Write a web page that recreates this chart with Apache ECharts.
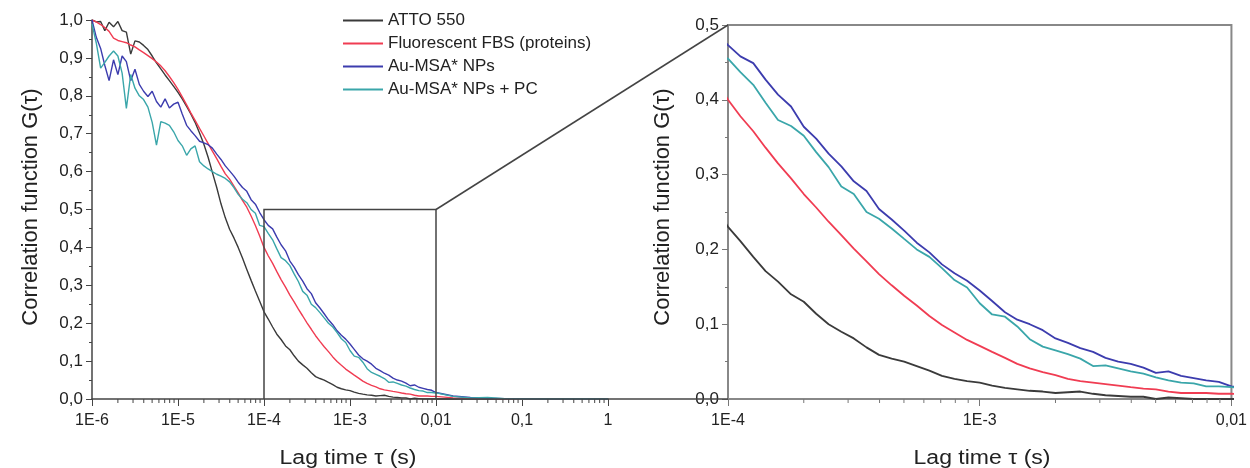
<!DOCTYPE html>
<html>
<head>
<meta charset="utf-8">
<script src="https://cdn.jsdelivr.net/npm/echarts@6/dist/echarts.min.js"></script>
<style>html,body{margin:0;padding:0;background:#fff;}#c{width:1250px;height:468px;}</style>
</head>
<body>
<div id="c"></div>
<script>
// Lag time tau (s)
const tau = [
  1.00e-6,1.12e-6,1.26e-6,1.41e-6,1.58e-6,1.78e-6,2.00e-6,2.24e-6,2.51e-6,2.82e-6,3.16e-6,3.55e-6,3.98e-6,4.47e-6,5.01e-6,5.62e-6,6.31e-6,7.08e-6,7.94e-6,8.91e-6,
  1.00e-5,1.12e-5,1.26e-5,1.41e-5,1.58e-5,1.78e-5,2.00e-5,2.24e-5,2.51e-5,2.82e-5,3.16e-5,3.55e-5,3.98e-5,4.47e-5,5.01e-5,5.62e-5,6.31e-5,7.08e-5,7.94e-5,8.91e-5,
  1.00e-4,1.12e-4,1.26e-4,1.41e-4,1.58e-4,1.78e-4,2.00e-4,2.24e-4,2.51e-4,2.82e-4,3.16e-4,3.55e-4,3.98e-4,4.47e-4,5.01e-4,5.62e-4,6.31e-4,7.08e-4,7.94e-4,8.91e-4,
  1.00e-3,1.12e-3,1.26e-3,1.41e-3,1.58e-3,1.78e-3,2.00e-3,2.24e-3,2.51e-3,2.82e-3,3.16e-3,3.55e-3,3.98e-3,4.47e-3,5.01e-3,5.62e-3,6.31e-3,7.08e-3,7.94e-3,8.91e-3,
  1.00e-2,1.58e-2,2.51e-2,3.98e-2,6.31e-2,0.100,0.158,0.251,0.398,0.631,1.00
];
// Correlation function G(tau)
const attoG = [
  1.000,0.995,0.996,0.972,0.994,0.982,0.996,0.972,0.968,0.910,0.945,0.942,0.933,0.922,0.905,0.887,0.871,0.855,0.840,0.825,
  0.809,0.792,0.772,0.752,0.730,0.702,0.672,0.638,0.598,0.558,0.515,0.478,0.448,0.425,0.400,0.372,0.342,0.313,0.285,0.258,
  0.230,0.211,0.190,0.171,0.157,0.140,0.130,0.114,0.100,0.090,0.081,0.069,0.059,0.054,0.050,0.044,0.038,0.031,0.027,0.024,
  0.022,0.018,0.015,0.013,0.011,0.010,0.008,0.009,0.010,0.007,0.005,0.004,0.003,0.003,0.000,0.002,0.001,0.000,0.000,0.000,
  0.000,0.000,0.001,0.000,0.000,0.000,0.000,0.000,0.000,0.000,0.000
];
const fbsG = [
  1.000,0.995,0.988,0.980,0.970,0.952,0.946,0.943,0.940,0.934,0.929,0.921,0.914,0.906,0.898,0.889,0.879,0.866,0.851,0.835,
  0.817,0.797,0.776,0.755,0.735,0.714,0.694,0.674,0.654,0.634,0.614,0.594,0.580,0.562,0.544,0.524,0.506,0.483,0.458,0.430,
  0.400,0.378,0.358,0.336,0.315,0.295,0.274,0.256,0.237,0.219,0.201,0.184,0.167,0.152,0.138,0.125,0.111,0.099,0.089,0.079,
  0.071,0.063,0.055,0.047,0.041,0.036,0.032,0.027,0.024,0.022,0.020,0.018,0.016,0.014,0.013,0.010,0.008,0.008,0.008,0.007,
  0.007,0.003,0.002,0.001,0.000,0.000,0.000,0.000,0.000,0.000,0.000
];
const msaG = [
  1.000,0.955,0.925,0.880,0.840,0.895,0.856,0.905,0.890,0.840,0.870,0.830,0.812,0.798,0.812,0.785,0.770,0.792,0.768,0.778,
  0.783,0.752,0.722,0.708,0.695,0.680,0.676,0.671,0.662,0.646,0.632,0.615,0.602,0.588,0.572,0.558,0.548,0.526,0.514,0.492,
  0.473,0.458,0.449,0.427,0.407,0.391,0.364,0.348,0.328,0.311,0.291,0.278,0.254,0.240,0.225,0.209,0.196,0.180,0.168,0.158,
  0.145,0.131,0.116,0.106,0.100,0.092,0.081,0.075,0.068,0.063,0.055,0.050,0.047,0.042,0.035,0.037,0.031,0.028,0.025,0.023,
  0.017,0.008,0.004,0.002,0.001,0.001,0.000,0.000,0.000,0.000,0.000
];
const pcG = [
  0.990,0.940,0.873,0.888,0.905,0.918,0.905,0.860,0.767,0.856,0.820,0.800,0.790,0.770,0.730,0.670,0.732,0.728,0.722,0.705,
  0.682,0.668,0.643,0.660,0.668,0.626,0.615,0.607,0.600,0.593,0.588,0.582,0.573,0.558,0.540,0.527,0.518,0.500,0.490,0.458,
  0.455,0.437,0.420,0.396,0.373,0.365,0.352,0.330,0.310,0.284,0.274,0.250,0.241,0.228,0.214,0.200,0.190,0.175,0.159,0.149,
  0.128,0.113,0.110,0.097,0.080,0.070,0.065,0.060,0.054,0.044,0.045,0.041,0.037,0.034,0.029,0.025,0.022,0.021,0.017,0.017,
  0.016,0.007,0.003,0.004,0.001,0.000,0.000,0.000,0.000,0.000,0.000
];
const seriesNames = ['ATTO 550', 'Fluorescent FBS (proteins)', 'Au-MSA* NPs', 'Au-MSA* NPs + PC'];
const seriesColors = ['#3a3a3a', '#f03c52', '#3c3cae', '#3aa6aa'];
const xTitle = 'Lag time τ (s)';
const yTitle = 'Correlation function G(τ)';

const FONT = 'Liberation Sans, Arial, Helvetica, sans-serif';
const values = [attoG, fbsG, msaG, pcG];

function fmtX(v) {
  const e = Math.round(Math.log10(v));
  if (e <= -3) return '1E' + e;
  return Math.pow(10, e).toFixed(Math.max(0, -e)).replace('.', ',');
}
function fmtY(v) { return v.toFixed(1).replace('.', ','); }

function minorTicks(d0, d1) {
  const out = [];
  for (let d = d0; d < d1; d++) for (let m = 2; m <= 9; m++) out.push([m * Math.pow(10, d), 0]);
  return out;
}
function tickSeries(xi, data, color) {
  return {
    type: 'custom', xAxisIndex: xi, yAxisIndex: xi, silent: true, clip: false, z: 5,
    data: data,
    renderItem: function (params, api) {
      const p = api.coord([api.value(0), api.value(1)]);
      return { type: 'line', shape: { x1: p[0], y1: p[1], x2: p[0], y2: p[1] + 4 },
        style: { stroke: color, lineWidth: 1 } };
    }
  };
}

const series = [];
for (let g = 0; g < 2; g++) {
  for (let k = 0; k < 4; k++) {
    series.push({
      type: 'line', name: seriesNames[k], xAxisIndex: g, yAxisIndex: g,
      data: tau.map((t, i) => [t, values[k][i]]),
      symbol: 'none', showSymbol: false, clip: true,
      lineStyle: { color: seriesColors[k], width: g === 0 ? 1.4 : 1.8 },
      itemStyle: { color: seriesColors[k] },
      z: 3
    });
  }
}
series.push(tickSeries(0, minorTicks(-6, 0), '#444'));
series.push(tickSeries(1, minorTicks(-4, -2), '#777'));

const chart = echarts.init(document.getElementById('c'), null, { renderer: 'canvas' });
chart.setOption({
  animation: false,
  backgroundColor: '#fff',
  textStyle: { fontFamily: FONT },
  legend: {
    orient: 'vertical', left: 343, top: 12, padding: 0, itemWidth: 40, itemHeight: 2, itemGap: 6,
    icon: 'rect', selectedMode: false, data: seriesNames,
    textStyle: { fontSize: 17, color: '#222', fontFamily: FONT }
  },
  grid: [
    { left: 92, top: 20, width: 516, height: 379 },
    { left: 728, top: 25, width: 505, height: 374, show: true, borderColor: '#888', borderWidth: 2, backgroundColor: 'transparent' }
  ],
  xAxis: [
    { type: 'log', logBase: 10, gridIndex: 0, min: 1e-6, max: 1, splitNumber: 6,
      axisLine: { show: true, onZero: false, lineStyle: { color: '#444', width: 1.5 } },
      axisTick: { show: true, inside: false, length: 7, lineStyle: { color: '#444', width: 1 } },
      axisLabel: { formatter: fmtX, fontSize: 16, color: '#222', margin: 14, fontFamily: FONT },
      splitLine: { show: false } },
    { type: 'log', logBase: 10, gridIndex: 1, min: 1e-4, max: 1e-2, splitNumber: 2,
      axisLine: { show: true, onZero: false, lineStyle: { color: '#888', width: 2 } },
      axisTick: { show: true, inside: false, length: 7, lineStyle: { color: '#777', width: 1 } },
      axisLabel: { formatter: fmtX, fontSize: 16, color: '#222', margin: 14, fontFamily: FONT },
      splitLine: { show: false } }
  ],
  yAxis: [
    { type: 'value', gridIndex: 0, min: 0, max: 1, interval: 0.1,
      axisLine: { show: true, lineStyle: { color: '#444', width: 1.5 } },
      axisTick: { show: true, inside: false, length: 6, lineStyle: { color: '#444' } },
      minorTick: { show: true, splitNumber: 2, length: 3, lineStyle: { color: '#444' } },
      axisLabel: { formatter: fmtY, fontSize: 17, color: '#222', margin: 9, fontFamily: FONT },
      splitLine: { show: false } },
    { type: 'value', gridIndex: 1, min: 0, max: 0.5, interval: 0.1,
      axisLine: { show: true, lineStyle: { color: '#888', width: 2 } },
      axisTick: { show: true, inside: false, length: 6, lineStyle: { color: '#777' } },
      minorTick: { show: true, splitNumber: 2, length: 3, lineStyle: { color: '#777' } },
      axisLabel: { formatter: fmtY, fontSize: 17, color: '#222', margin: 9, fontFamily: FONT },
      splitLine: { show: false } }
  ],
  series: series
});

// zoom box and connectors, positioned through the axes' own scales
const b0 = chart.convertToPixel({ gridIndex: 0 }, [1e-4, 0]);
const b1 = chart.convertToPixel({ gridIndex: 0 }, [1e-2, 0.5]);
const r0 = chart.convertToPixel({ gridIndex: 1 }, [1e-4, 0.5]);
const r1 = chart.convertToPixel({ gridIndex: 1 }, [1e-4, 0]);
const lx = chart.convertToPixel({ gridIndex: 0 }, [1e-3, 0])[0];
const rx = chart.convertToPixel({ gridIndex: 1 }, [1e-3, 0])[0];
const lineStyle = { stroke: '#444', lineWidth: 1.5, fill: null };
function title(x, y, text, rot, size, sx) {
  return { type: 'text', z: 10, x: x, y: y, rotation: rot, scaleX: sx, scaleY: 1,
    style: { text: text, fontSize: size, fill: '#222', fontFamily: FONT, textAlign: 'center', textVerticalAlign: 'middle' } };
}
chart.setOption({
  graphic: [
    { type: 'polyline', z: 10, shape: { points: [[b0[0], b0[1]], [b0[0], b1[1]], [b1[0], b1[1]], [b1[0], b0[1]]] }, style: lineStyle },
    { type: 'line', z: 10, shape: { x1: b1[0], y1: b1[1], x2: r0[0], y2: r0[1] }, style: lineStyle },
    { type: 'line', z: 10, shape: { x1: b1[0], y1: b0[1], x2: r1[0], y2: r1[1] }, style: lineStyle },
    title(31, 207, yTitle, Math.PI / 2, 22, 1),
    title(663, 207, yTitle, Math.PI / 2, 22, 1),
    title(348, 458, xTitle, 0, 20, 1.15),
    title(982, 458, xTitle, 0, 20, 1.15)
  ]
});
</script>
</body>
</html>
